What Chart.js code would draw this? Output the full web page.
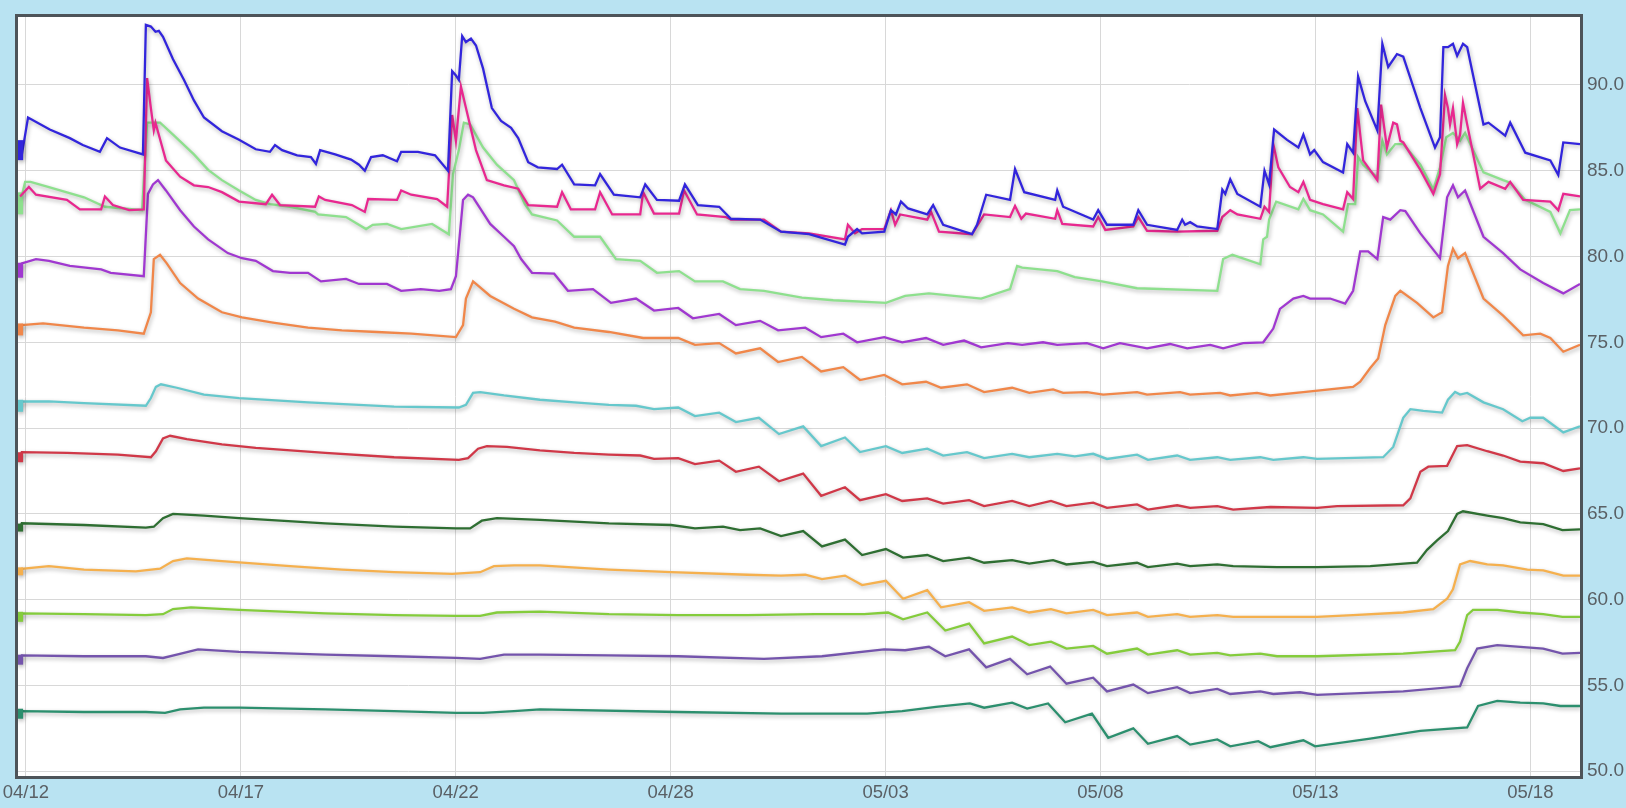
<!DOCTYPE html>
<html>
<head>
<meta charset="utf-8">
<title>Trend</title>
<script src="https://cdn.jsdelivr.net/npm/chart.js@4.4.0/dist/chart.umd.min.js"></script>
<style>
  html, body { margin: 0; padding: 0; background: #b9e3f2; }
  #wrap { width: 1626px; height: 808px; }
</style>
</head>
<body>
<div id="wrap"><canvas id="chart" width="1626" height="808"></canvas></div>
<script>
// x is days since 04/12, tick labels sit on an even grid
var tickDays = [0, 5.143, 10.286, 15.429, 20.571, 25.714, 30.857, 36];
var tickLabels = ['04/12', '04/17', '04/22', '04/28', '05/03', '05/08', '05/13', '05/18'];
var yTicks = [50, 55, 60, 65, 70, 75, 80, 85, 90];

var blue = [[-0.14,86.2],[-0.1,85.9],[0.05,88.1],[0.57,87.4],[1.05,86.9],[1.36,86.5],[1.77,86.1],[1.94,86.9],[2.25,86.35],[2.8,85.95],[2.87,93.5],[2.99,93.4],[3.1,93.1],[3.18,93.15],[3.28,92.8],[3.52,91.5],[3.78,90.3],[4.02,89.1],[4.26,88.1],[4.69,87.3],[5.1,86.8],[5.5,86.25],[5.84,86.1],[5.96,86.5],[6.13,86.2],[6.49,85.9],[6.82,85.8],[6.94,85.4],[7.04,86.2],[7.4,85.95],[7.78,85.65],[7.97,85.35],[8.11,85.0],[8.26,85.8],[8.54,85.9],[8.88,85.55],[8.98,86.1],[9.38,86.1],[9.79,85.9],[10.1,85.0],[10.2,90.8],[10.29,90.55],[10.36,90.3],[10.44,92.85],[10.53,92.5],[10.65,92.7],[10.77,92.3],[10.94,90.95],[11.15,88.65],[11.37,87.9],[11.61,87.5],[11.78,86.9],[12.02,85.5],[12.25,85.2],[12.71,85.1],[12.83,85.35],[13.12,84.2],[13.62,84.15],[13.74,84.8],[14.07,83.6],[14.7,83.45],[14.82,84.2],[15.1,83.3],[15.63,83.25],[15.77,84.2],[16.08,83.0],[16.59,82.9],[16.87,82.2],[17.57,82.15],[18.07,81.45],[18.74,81.3],[19.6,80.7],[19.67,81.15],[19.89,81.6],[20.01,81.35],[20.54,81.45],[20.7,82.7],[20.82,82.45],[20.94,83.2],[21.11,82.8],[21.57,82.45],[21.71,83.0],[21.95,81.85],[22.64,81.3],[22.76,81.85],[22.98,83.6],[23.55,83.3],[23.67,85.1],[23.89,83.75],[24.63,83.3],[24.68,83.85],[24.82,82.9],[25.54,82.15],[25.66,82.7],[25.87,81.85],[26.5,81.85],[26.62,82.7],[26.83,81.85],[27.55,81.55],[27.67,82.15],[27.74,81.85],[27.86,82.0],[28.03,81.75],[28.51,81.6],[28.63,83.9],[28.7,83.65],[28.82,84.5],[28.99,83.65],[29.54,82.9],[29.64,85.0],[29.75,84.2],[29.87,87.4],[30.18,86.8],[30.45,86.35],[30.57,87.1],[30.73,85.95],[30.83,86.2],[31.04,85.5],[31.52,84.9],[31.62,86.55],[31.76,86.05],[31.88,90.5],[32.05,89.05],[32.34,87.35],[32.46,92.4],[32.6,91.05],[32.81,91.8],[32.96,91.65],[33.37,88.65],[33.72,86.35],[33.84,86.95],[33.92,92.2],[34.03,92.2],[34.15,92.4],[34.25,91.7],[34.39,92.4],[34.49,92.2],[34.88,87.7],[35.0,87.8],[35.4,87.05],[35.52,87.8],[35.88,86.05],[36.48,85.6],[36.67,84.75],[36.79,86.65],[37.19,86.55]];

var pink = [[-0.14,83.5],[0.07,84.05],[0.24,83.6],[0.98,83.3],[1.29,82.75],[1.8,82.75],[1.89,83.5],[2.08,83.0],[2.47,82.7],[2.82,82.75],[2.9,90.4],[2.99,88.65],[3.06,87.35],[3.1,87.8],[3.18,87.1],[3.35,85.6],[3.69,84.65],[4.02,84.15],[4.36,84.05],[4.69,83.75],[5.1,83.2],[5.74,83.05],[5.89,83.6],[6.08,83.0],[6.92,82.9],[7.01,83.5],[7.16,83.3],[7.8,83.0],[8.11,82.6],[8.19,83.35],[8.88,83.3],[8.98,83.85],[9.22,83.6],[9.84,83.35],[10.08,82.9],[10.2,88.25],[10.29,86.75],[10.41,89.9],[10.53,88.65],[10.77,86.2],[11.03,84.45],[11.44,84.15],[11.78,83.95],[12.02,83.0],[12.71,82.9],[12.83,83.75],[13.04,82.75],[13.62,82.75],[13.74,83.75],[14.03,82.45],[14.7,82.45],[14.77,83.75],[15.03,82.5],[15.63,82.5],[15.75,83.85],[16.06,82.45],[16.75,82.3],[16.87,82.15],[17.66,82.15],[18.07,81.45],[18.74,81.35],[19.6,81.0],[19.67,81.85],[19.84,81.35],[20.01,81.6],[20.54,81.6],[20.7,82.7],[20.8,81.85],[20.92,82.45],[21.57,82.15],[21.66,82.6],[21.85,81.45],[22.64,81.3],[22.93,82.45],[23.55,82.3],[23.67,82.95],[23.82,82.2],[23.93,82.5],[24.63,82.2],[24.68,82.7],[24.8,81.9],[25.54,81.75],[25.66,82.3],[25.83,81.55],[26.5,81.75],[26.62,82.3],[26.83,81.5],[27.55,81.45],[28.51,81.5],[28.63,82.3],[28.82,82.7],[28.99,82.45],[29.54,82.2],[29.64,82.9],[29.75,82.6],[29.85,86.55],[29.97,85.2],[30.25,84.05],[30.45,83.75],[30.57,84.35],[30.73,83.3],[31.04,83.05],[31.52,82.75],[31.62,83.75],[31.76,83.35],[31.86,88.65],[32.0,85.6],[32.34,84.45],[32.43,88.85],[32.57,86.35],[32.72,87.8],[32.81,87.7],[32.89,86.75],[32.96,86.65],[33.37,85.05],[33.68,83.65],[33.84,84.8],[33.96,89.4],[34.03,88.65],[34.08,87.7],[34.15,88.65],[34.25,86.55],[34.32,87.1],[34.39,88.95],[34.49,87.7],[34.8,83.95],[35.0,84.35],[35.4,83.95],[35.52,84.35],[35.83,83.3],[36.48,83.2],[36.67,82.7],[36.79,83.65],[37.19,83.5]];

var lightGreen = [[-0.14,83.1],[-0.02,84.35],[0.11,84.35],[0.55,84.05],[1.39,83.45],[1.89,82.9],[2.78,82.7],[2.9,87.8],[3.21,87.8],[3.52,87.1],[4.02,85.95],[4.36,85.05],[4.69,84.45],[5.1,83.85],[5.5,83.3],[5.84,83.05],[6.32,82.9],[6.92,82.6],[6.99,82.45],[7.66,82.3],[8.14,81.6],[8.3,81.85],[8.64,81.9],[8.98,81.6],[9.72,81.9],[10.12,81.3],[10.22,84.8],[10.36,86.2],[10.48,87.8],[10.63,87.7],[10.94,86.35],[11.27,85.35],[11.68,84.45],[11.94,83.05],[12.11,82.45],[12.71,82.1],[13.12,81.15],[13.74,81.15],[14.12,79.85],[14.7,79.75],[15.1,79.05],[15.63,79.15],[16.01,78.55],[16.68,78.55],[17.09,78.1],[17.66,78.0],[18.57,77.6],[19.32,77.45],[20.58,77.3],[21.04,77.7],[21.61,77.85],[22.86,77.55],[23.55,78.1],[23.72,79.45],[23.84,79.35],[24.68,79.15],[25.1,78.8],[25.75,78.55],[26.59,78.15],[28.51,78.0],[28.65,79.85],[28.87,80.1],[29.54,79.55],[29.61,81.0],[29.7,81.15],[29.75,82.15],[29.92,83.2],[30.45,82.75],[30.57,83.35],[30.73,82.7],[31.04,82.45],[31.52,81.45],[31.64,83.05],[31.81,83.05],[31.88,85.8],[32.0,85.35],[32.34,84.6],[32.46,86.75],[32.57,85.95],[32.77,86.55],[32.96,86.55],[33.37,85.35],[33.68,83.9],[33.84,85.2],[33.99,86.95],[34.15,87.2],[34.32,86.75],[34.44,87.2],[34.88,84.9],[35.35,84.45],[35.52,84.3],[35.88,83.3],[36.48,82.6],[36.72,81.35],[36.95,82.7],[37.19,82.75]];

var violet = [[-0.14,79.2],[-0.1,79.6],[0.24,79.85],[0.55,79.75],[1.05,79.45],[1.8,79.25],[2.03,79.05],[2.82,78.85],[2.92,83.65],[3.04,84.2],[3.16,84.45],[3.35,83.85],[3.69,82.7],[4.02,81.75],[4.36,81.0],[4.83,80.2],[5.17,79.9],[5.5,79.75],[5.91,79.15],[6.32,79.05],[6.75,79.05],[7.06,78.55],[7.66,78.7],[7.97,78.4],[8.64,78.4],[8.98,78.0],[9.45,78.1],[9.89,78.0],[10.17,78.1],[10.29,78.85],[10.46,83.3],[10.58,83.6],[10.7,83.45],[11.11,81.9],[11.44,81.15],[11.68,80.6],[11.85,79.85],[12.11,79.05],[12.64,79.0],[12.97,78.0],[13.57,78.1],[14.0,77.3],[14.6,77.55],[15.03,76.85],[15.61,77.0],[15.96,76.4],[16.59,76.65],[16.99,76.0],[17.57,76.25],[18.0,75.7],[18.65,75.85],[19.03,75.3],[19.56,75.5],[19.89,75.0],[20.54,75.3],[20.97,75.0],[21.54,75.25],[21.95,74.85],[22.45,75.1],[22.86,74.7],[23.5,74.95],[23.84,74.85],[24.34,75.0],[24.68,74.85],[25.39,74.95],[25.78,74.65],[26.18,74.95],[26.83,74.65],[27.38,74.9],[27.79,74.65],[28.34,74.85],[28.65,74.65],[29.13,74.95],[29.61,75.0],[29.85,75.8],[30.01,76.95],[30.33,77.55],[30.57,77.7],[30.73,77.55],[31.21,77.55],[31.57,77.25],[31.76,78.0],[31.93,80.3],[32.12,80.3],[32.34,79.85],[32.48,82.3],[32.65,82.15],[32.89,82.7],[33.01,82.65],[33.37,81.35],[33.84,79.9],[34.01,83.45],[34.15,84.15],[34.27,83.45],[34.44,83.85],[34.88,81.15],[35.35,80.2],[35.76,79.25],[36.31,78.45],[36.79,77.85],[37.19,78.4]];

var orange = [[-0.14,75.75],[-0.1,76.0],[0.41,76.1],[1.39,75.85],[2.2,75.7],[2.82,75.5],[2.99,76.75],[3.06,79.85],[3.21,80.1],[3.37,79.6],[3.69,78.45],[4.12,77.55],[4.69,76.75],[5.17,76.45],[5.91,76.15],[6.75,75.85],[7.56,75.7],[8.4,75.6],[9.22,75.5],[10.29,75.3],[10.46,76.0],[10.53,77.55],[10.7,78.55],[11.11,77.7],[11.68,76.95],[12.11,76.45],[12.66,76.2],[13.12,75.85],[13.95,75.6],[14.77,75.25],[15.61,75.25],[16.01,74.85],[16.59,74.95],[16.99,74.35],[17.57,74.65],[18.0,73.85],[18.57,74.15],[19.03,73.3],[19.56,73.55],[19.96,72.8],[20.54,73.1],[20.97,72.55],[21.54,72.7],[21.9,72.35],[22.52,72.55],[22.93,72.1],[23.6,72.35],[24.01,72.05],[24.58,72.25],[24.82,72.05],[25.39,72.1],[25.78,71.95],[26.59,72.1],[26.83,71.95],[27.62,72.1],[27.86,71.95],[28.58,72.05],[28.82,71.9],[29.46,72.05],[29.78,71.9],[30.57,72.1],[31.76,72.4],[31.93,72.7],[32.17,73.5],[32.36,74.05],[32.53,76.0],[32.77,77.7],[32.89,78.0],[33.29,77.3],[33.68,76.45],[33.89,76.75],[34.03,79.45],[34.15,80.45],[34.27,79.9],[34.44,80.2],[34.88,77.55],[35.35,76.55],[35.83,75.4],[36.24,75.5],[36.48,75.25],[36.79,74.45],[37.19,74.85]];

var cyan = [[-0.14,71.3],[-0.1,71.55],[0.55,71.55],[1.39,71.45],[2.87,71.3],[2.99,71.75],[3.11,72.4],[3.23,72.55],[3.61,72.35],[4.26,71.95],[5.1,71.75],[6.75,71.5],[8.81,71.25],[10.36,71.2],[10.53,71.35],[10.7,72.05],[10.87,72.1],[11.44,71.9],[12.3,71.65],[13.12,71.5],[13.95,71.35],[14.6,71.3],[15.03,71.1],[15.61,71.2],[16.01,70.7],[16.59,70.9],[16.99,70.35],[17.54,70.6],[18.02,69.65],[18.6,70.1],[19.03,68.95],[19.6,69.45],[19.96,68.6],[20.58,68.95],[20.97,68.55],[21.57,68.8],[21.95,68.4],[22.52,68.6],[22.93,68.25],[23.6,68.5],[24.01,68.3],[24.68,68.5],[25.1,68.35],[25.54,68.5],[25.87,68.2],[26.59,68.45],[26.85,68.15],[27.55,68.4],[27.86,68.15],[28.51,68.3],[28.82,68.15],[29.54,68.3],[29.85,68.15],[30.57,68.3],[30.9,68.2],[32.48,68.3],[32.72,68.9],[32.96,70.6],[33.13,71.1],[33.44,71.0],[33.89,70.9],[34.03,71.65],[34.2,72.1],[34.32,71.95],[34.49,72.05],[34.88,71.5],[35.35,71.1],[35.81,70.4],[36.0,70.6],[36.31,70.6],[36.79,69.75],[37.19,70.1]];

var red = [[-0.14,68.3],[-0.1,68.6],[0.98,68.55],[2.2,68.45],[2.99,68.3],[3.11,68.65],[3.28,69.4],[3.45,69.55],[3.85,69.35],[4.69,69.05],[5.5,68.85],[7.16,68.55],[8.81,68.3],[10.36,68.15],[10.58,68.25],[10.82,68.8],[11.03,68.95],[11.51,68.9],[12.3,68.7],[13.12,68.55],[13.95,68.45],[14.7,68.4],[15.03,68.2],[15.61,68.25],[16.01,67.9],[16.59,68.1],[16.99,67.45],[17.54,67.75],[18.02,66.9],[18.6,67.35],[19.03,66.05],[19.6,66.55],[19.96,65.8],[20.58,66.15],[20.97,65.75],[21.57,65.9],[21.95,65.6],[22.57,65.8],[22.93,65.45],[23.6,65.75],[24.01,65.45],[24.53,65.75],[24.9,65.45],[25.54,65.65],[25.87,65.35],[26.59,65.55],[26.85,65.25],[27.55,65.5],[27.86,65.35],[28.51,65.45],[28.89,65.25],[29.78,65.4],[30.9,65.35],[31.38,65.45],[32.96,65.5],[33.13,65.9],[33.37,67.45],[33.56,67.75],[34.01,67.8],[34.25,68.95],[34.49,69.0],[34.97,68.65],[35.35,68.4],[35.76,68.05],[36.31,67.95],[36.79,67.5],[37.19,67.65]];

var darkGreen = [[-0.14,64.2],[-0.1,64.45],[1.39,64.35],[2.87,64.2],[3.06,64.25],[3.28,64.75],[3.52,65.0],[4.26,64.9],[5.1,64.75],[7.16,64.45],[8.81,64.25],[10.29,64.15],[10.63,64.15],[10.91,64.6],[11.27,64.75],[12.3,64.65],[13.95,64.45],[15.44,64.35],[16.01,64.15],[16.68,64.25],[17.09,64.05],[17.57,64.15],[18.07,63.7],[18.6,64.0],[19.05,63.1],[19.6,63.5],[20.01,62.6],[20.58,62.95],[20.99,62.45],[21.57,62.6],[21.95,62.25],[22.57,62.45],[22.93,62.15],[23.6,62.3],[24.01,62.1],[24.58,62.3],[24.9,62.05],[25.54,62.2],[25.87,61.95],[26.59,62.15],[26.85,61.9],[27.55,62.1],[27.86,61.95],[28.51,62.05],[28.89,61.95],[29.94,61.9],[30.9,61.9],[32.17,61.95],[33.29,62.15],[33.53,62.9],[33.77,63.45],[34.03,64.0],[34.25,65.0],[34.39,65.15],[34.97,64.9],[35.35,64.75],[35.76,64.5],[36.31,64.4],[36.77,64.05],[37.19,64.1]];

var gold = [[-0.14,61.65],[-0.1,61.8],[0.55,61.95],[1.39,61.75],[2.63,61.65],[3.21,61.8],[3.52,62.25],[3.85,62.4],[4.69,62.25],[6.32,61.95],[7.56,61.75],[8.81,61.6],[10.2,61.5],[10.87,61.6],[11.2,61.95],[11.68,62.0],[12.3,62.0],[13.95,61.75],[15.44,61.6],[17.26,61.45],[18.07,61.4],[18.65,61.45],[19.05,61.2],[19.6,61.4],[20.01,60.85],[20.58,61.1],[20.99,60.05],[21.57,60.55],[21.9,59.55],[22.57,59.85],[22.93,59.35],[23.6,59.55],[24.01,59.25],[24.53,59.45],[24.9,59.2],[25.54,59.4],[25.87,59.1],[26.59,59.25],[26.85,59.0],[27.55,59.15],[27.86,59.0],[28.51,59.1],[28.89,59.0],[30.9,59.0],[31.76,59.1],[32.96,59.25],[33.68,59.45],[34.01,60.05],[34.15,60.6],[34.32,62.05],[34.56,62.25],[34.97,62.05],[35.35,62.0],[35.93,61.75],[36.31,61.7],[36.79,61.4],[37.19,61.4]];

var lime = [[-0.14,59.0],[-0.1,59.2],[1.39,59.15],[2.87,59.1],[3.28,59.15],[3.52,59.45],[3.95,59.55],[5.1,59.4],[7.16,59.2],[8.81,59.1],[10.29,59.05],[10.87,59.05],[11.27,59.25],[12.3,59.3],[13.95,59.15],[15.61,59.1],[17.26,59.1],[18.88,59.15],[20.06,59.15],[20.63,59.25],[20.99,58.85],[21.57,59.25],[22.0,58.2],[22.57,58.6],[22.93,57.45],[23.6,57.85],[24.01,57.35],[24.53,57.55],[24.9,57.15],[25.54,57.3],[25.87,56.85],[26.59,57.15],[26.85,56.8],[27.55,57.05],[27.86,56.8],[28.51,56.9],[28.82,56.75],[29.54,56.85],[29.94,56.7],[30.9,56.7],[32.96,56.85],[34.2,57.05],[34.32,57.55],[34.49,59.1],[34.63,59.4],[35.21,59.4],[35.76,59.25],[36.31,59.15],[36.77,59.0],[37.19,59.0]];

var plum = [[-0.14,56.5],[-0.1,56.75],[1.39,56.7],[2.87,56.7],[3.28,56.6],[3.61,56.8],[4.12,57.1],[5.1,56.95],[7.16,56.8],[8.81,56.7],[10.29,56.6],[10.87,56.55],[11.44,56.8],[12.3,56.8],[13.95,56.75],[15.61,56.7],[17.66,56.55],[19.05,56.7],[20.54,57.1],[21.04,57.05],[21.61,57.25],[22.0,56.7],[22.57,57.1],[22.98,56.05],[23.55,56.55],[23.96,55.65],[24.51,56.1],[24.9,55.1],[25.54,55.45],[25.87,54.65],[26.5,55.05],[26.85,54.55],[27.55,54.9],[27.86,54.55],[28.51,54.8],[28.82,54.5],[29.54,54.65],[29.85,54.5],[30.49,54.6],[30.9,54.45],[32.96,54.65],[34.32,54.95],[34.49,56.0],[34.73,57.15],[35.21,57.35],[35.76,57.25],[36.31,57.15],[36.77,56.85],[37.19,56.9]];

var teal = [[-0.14,53.35],[-0.1,53.5],[1.39,53.45],[2.87,53.45],[3.33,53.4],[3.69,53.6],[4.26,53.7],[5.1,53.7],[7.16,53.6],[8.81,53.5],[10.29,53.4],[10.94,53.4],[11.68,53.5],[12.3,53.6],[15.61,53.45],[18.07,53.35],[20.13,53.35],[20.97,53.5],[21.78,53.75],[22.59,53.95],[22.93,53.7],[23.6,54.0],[23.96,53.65],[24.46,53.95],[24.87,52.85],[25.51,53.35],[25.9,51.95],[26.5,52.5],[26.85,51.6],[27.55,52.05],[27.86,51.55],[28.51,51.85],[28.82,51.45],[29.49,51.75],[29.78,51.4],[30.57,51.8],[30.85,51.45],[32.17,51.9],[33.37,52.35],[34.49,52.55],[34.75,53.8],[35.21,54.1],[35.76,54.0],[36.31,53.95],[36.72,53.8],[37.19,53.8]];

var series = [blue, pink, lightGreen, violet, orange, cyan, red, darkGreen, gold, lime, plum, teal];
var colors = ['#3225dc', '#e8288f', '#8ee08e', '#a038d0', '#f0874a', '#66c8cc', '#d03848', '#2e6e32', '#f5b04e', '#84cc3c', '#7454ac', '#2c8f6e'];
var startMark = [10, 0, 11, 7.5, 6, 6, 5, 4, 4, 5, 5, 5];

var datasets = series.map(function(s, i) {
    return {
        data: s.map(function(p) { return { x: p[0], y: p[1] }; }),
        borderColor: colors[i],
        borderWidth: 2.3,
        tension: 0,
        pointStyle: 'line',
        rotation: 90,
        pointBorderColor: colors[i],
        pointBorderWidth: 6,
        pointRadius: function(ctx) { return ctx.dataIndex === 0 ? startMark[i] : 0; },
        pointHoverRadius: 0
    };
});

var plotFrame = {
    id: 'plotFrame',
    beforeDraw: function(chart) {
        var c = chart.ctx, a = chart.chartArea;
        c.save();
        c.fillStyle = '#ffffff';
        c.fillRect(a.left, a.top, a.right - a.left, a.bottom - a.top);
        c.restore();
    },
    afterDraw: function(chart) {
        var c = chart.ctx, a = chart.chartArea;
        c.save();
        c.strokeStyle = '#4d5459';
        c.lineWidth = 3;
        c.strokeRect(a.left - 1.5, a.top - 1.5, a.right - a.left + 3, a.bottom - a.top + 3);
        c.restore();
    }
};

var lineShadow = {
    id: 'lineShadow',
    beforeDatasetsDraw: function(chart) {
        var c = chart.ctx;
        c.save();
        c.shadowColor = 'rgba(0,0,0,0.3)';
        c.shadowBlur = 4;
        c.shadowOffsetX = 1;
        c.shadowOffsetY = 2;
    },
    afterDatasetsDraw: function(chart) {
        chart.ctx.restore();
    }
};

var tickFont = { family: '"Liberation Sans", Arial, sans-serif', size: 18.5 };

new Chart(document.getElementById('chart').getContext('2d'), {
    type: 'line',
    data: { datasets: datasets },
    options: {
        responsive: false,
        animation: false,
        layout: { padding: { left: 18, top: 8, right: 0, bottom: 0 } },
        plugins: { legend: { display: false }, tooltip: { enabled: false } },
        scales: {
            x: {
                type: 'linear',
                min: -0.19,
                max: 37.19,
                afterBuildTicks: function(s) { s.ticks = tickDays.map(function(v) { return { value: v }; }); },
                afterFit: function(s) { s.height = 32; s.paddingLeft = 0; s.paddingRight = 0; },
                grid: { color: '#d8d8d8', drawTicks: false },
                border: { display: false },
                ticks: {
                    autoSkip: false,
                    maxRotation: 0,
                    padding: 6,
                    color: '#5a6065',
                    font: tickFont,
                    callback: function(v, i) { return tickLabels[i]; }
                }
            },
            y: {
                position: 'right',
                min: 49.72,
                max: 93.96,
                afterBuildTicks: function(s) { s.ticks = yTicks.map(function(v) { return { value: v }; }); },
                afterFit: function(s) { s.width = 46; s.paddingTop = 0; s.paddingBottom = 0; },
                grid: { color: '#d8d8d8', drawTicks: false },
                border: { display: false },
                ticks: {
                    padding: 7,
                    color: '#5a6065',
                    font: { family: tickFont.family, size: 19 },
                    callback: function(v) { return Number(v).toFixed(1); }
                }
            }
        }
    },
    plugins: [plotFrame, lineShadow]
});
</script>
</body>
</html>
